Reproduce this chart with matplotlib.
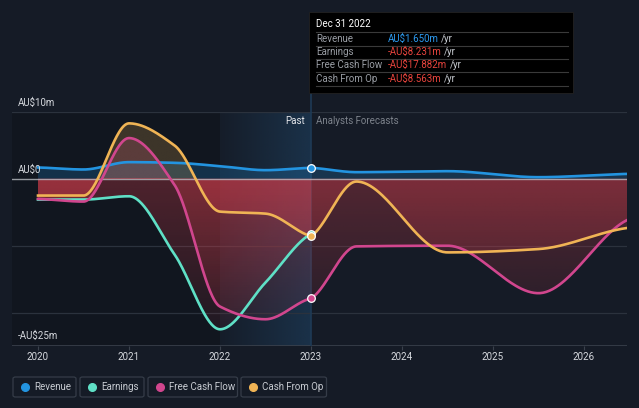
import numpy as np
import matplotlib
matplotlib.use("Agg")
import matplotlib.pyplot as plt
from matplotlib.patches import Polygon, FancyBboxPatch, Rectangle
from matplotlib.colors import to_rgb

plt.rcParams['font.family'] = ['Roboto', 'DejaVu Sans']

# ---------------- data (AU$ millions) ----------------
past_x = [2020.0, 2020.5, 2021.0, 2021.5, 2022.0, 2022.5, 2023.0]
fc_x = [2023.0, 2023.5, 2024.5, 2025.5, 2026.5]

revenue_past = [1.7, 1.4, 2.5, 2.4, 1.9, 1.3, 1.65]
revenue_fc = [1.65, 1.0, 1.15, 0.25, 0.75]
earnings_past = [-3.1, -3.1, -2.6, -11.3, -22.5, -15.5, -8.231]
fcf_past = [-3.0, -3.4, 6.1, -0.9, -19.1, -21.0, -17.882]
fcf_fc = [-17.882, -10.1, -10.0, -17.1, -6.0]
cfo_past = [-2.5, -2.5, 8.3, 5.0, -4.9, -5.2, -8.563]
cfo_fc = [-8.563, -0.4, -11.0, -10.5, -7.3]

year_ticks = [2020, 2021, 2022, 2023, 2024, 2025, 2026]
series_names = ["Revenue", "Earnings", "Free Cash Flow", "Cash From Op"]
series_colors = ["#2394e0", "#5fe0c6", "#d1468e", "#f0b455"]
tooltip_date = "Dec 31 2022"
tooltip_values = ["AU$1.650m", "-AU$8.231m", "-AU$17.882m", "-AU$8.563m"]

BG = "#151b26"
W, H = 639, 408


def pchip(x, y, n=60):
    x = np.asarray(x, float)
    y = np.asarray(y, float)
    h = np.diff(x)
    d = np.diff(y) / h
    m = np.zeros_like(y)
    for k in range(1, len(y) - 1):
        if d[k - 1] * d[k] <= 0:
            m[k] = 0
        else:
            w1 = 2 * h[k] + h[k - 1]
            w2 = h[k] + 2 * h[k - 1]
            m[k] = (w1 + w2) / (w1 / d[k - 1] + w2 / d[k])
    m[0] = d[0] * 0.5
    m[-1] = d[-1] * 0.5
    xs, ys = [], []
    for k in range(len(x) - 1):
        t = np.linspace(0, 1, n, endpoint=(k == len(x) - 2))
        hk = h[k]
        h00 = 2 * t**3 - 3 * t**2 + 1
        h10 = t**3 - 2 * t**2 + t
        h01 = -2 * t**3 + 3 * t**2
        h11 = t**3 - t**2
        xs.append(x[k] + t * hk)
        ys.append(h00 * y[k] + h10 * hk * m[k] + h01 * y[k + 1] + h11 * hk * m[k + 1])
    return np.concatenate(xs), np.concatenate(ys)


fig = plt.figure(figsize=(W / 100, H / 100), dpi=100, facecolor=BG)

x_left = 2020 - 26 / 91
x_right = 2020 + 589 / 91
ymin, ymax = -25, 10

ax = fig.add_axes([12 / W, (H - 346) / H, (627 - 12) / W, (346 - 112) / H])
ax.set_facecolor(BG)
ax.set_xlim(x_left, x_right)
ax.set_ylim(ymin, ymax)
for s in ax.spines.values():
    s.set_visible(False)
ax.set_yticks([])
ax.set_xticks(year_ticks)
ax.set_xticklabels([str(t) for t in year_ticks])
ax.tick_params(axis='x', colors="#3a414c", labelcolor="#d6d9de", labelsize=7,
               length=3, width=0.8, pad=1.5)

# past darker region
ax.axvspan(x_left, 2022, color="black", alpha=0.17, lw=0, zorder=0)
# highlighted past band (horizontal gradient)
band = np.zeros((2, 256, 4))
band[..., :3] = to_rgb("#1f4466")
band[..., 3] = np.linspace(0.05, 0.55, 256)[None, :]
ax.imshow(band, extent=[2022, 2023, ymin, ymax], origin='lower', aspect='auto',
          zorder=0.5, interpolation='bilinear')

# gridlines
for gy in [10, -10, -20]:
    ax.axhline(gy, color="#2b323d", lw=0.9, zorder=1)
ax.axhline(-25, color="#3a414c", lw=1.2, zorder=1)

# vertical "today" line at 2023 (inside axes, below the markers)
ax.axvline(2023, color="#1e3a55", lw=1.2, zorder=1.5)


def grad_fill(x, y, color, a_top, a_bot, ylo, yhi, z):
    poly = np.column_stack([np.r_[x, x[::-1]], np.r_[y, np.zeros_like(y)]])
    patch = Polygon(poly, closed=True, fc='none', ec='none')
    ax.add_patch(patch)
    img = np.zeros((256, 2, 4))
    img[..., :3] = to_rgb(color)
    img[..., 3] = np.linspace(a_bot, a_top, 256)[:, None]
    im = ax.imshow(img, extent=[x[0], x[-1], ylo, yhi], origin='lower',
                   aspect='auto', zorder=z, interpolation='bilinear')
    im.set_clip_path(patch)


rx, ry = pchip(past_x, revenue_past)
rfx, rfy = pchip(fc_x, revenue_fc)
ex, ey = pchip(past_x, earnings_past)
fx, fy = pchip(past_x, fcf_past)
ffx, ffy = pchip(fc_x, fcf_fc)
cx, cy = pchip(past_x, cfo_past)
cfx, cfy = pchip(fc_x, cfo_fc)

rev_x, rev_y = np.r_[rx, rfx[1:]], np.r_[ry, rfy[1:]]
fcf_x, fcf_y = np.r_[fx, ffx[1:]], np.r_[fy, ffy[1:]]
cfo_x, cfo_y = np.r_[cx, cfx[1:]], np.r_[cy, cfy[1:]]

RED = "#e0404e"
# positive fills
grad_fill(rev_x, rev_y, series_colors[0], 0.22, 0.22, 0, ymax, 2)
grad_fill(fcf_x, fcf_y, series_colors[2], 0.2, 0.2, 0, ymax, 2)
grad_fill(cfo_x, cfo_y, series_colors[3], 0.2, 0.2, 0, ymax, 2)
# negative fills (red)
grad_fill(ex, ey, RED, 0.3, 0.05, ymin, 0, 2)
grad_fill(fcf_x, fcf_y, RED, 0.3, 0.05, ymin, 0, 2)
grad_fill(cfo_x, cfo_y, RED, 0.3, 0.05, ymin, 0, 2)

ax.axhline(0, color="#b9bcc2", lw=1.0, alpha=0.8, zorder=3)

lw = 1.9
ax.plot(rev_x, rev_y, color=series_colors[0], lw=lw, zorder=5)
ax.plot(ex, ey, color=series_colors[1], lw=lw, zorder=5)
ax.plot(fcf_x, fcf_y, color=series_colors[2], lw=lw, zorder=5)
ax.plot(cfo_x, cfo_y, color=series_colors[3], lw=lw, zorder=5)

for vals, col in [(revenue_past, series_colors[0]), (earnings_past, series_colors[1]),
                  (fcf_past, series_colors[2]), (cfo_past, series_colors[3])]:
    ax.plot([past_x[-1]], [vals[-1]], 'o', ms=5.5, mfc=col, mec="white", mew=0.9, zorder=7)

ax.set_xlim(x_left, x_right)
ax.set_ylim(ymin, ymax)

# part of the 2023 line above the axes, up to the tooltip
x23 = 12 + (2023 - x_left) / (x_right - x_left) * (627 - 12)
fig.add_artist(plt.Line2D([x23 / W, x23 / W], [(H - 112) / H, (H - 93) / H],
                          color="#1e3a55", lw=1.2, zorder=1))

# axis labels
fig.text(18 / W, 1 - 103 / H, "AU$10m", color="#d6d9de", fontsize=7, va='center')
fig.text(18 / W, 1 - 170 / H, "AU$0", color="#d6d9de", fontsize=7, va='center')
fig.text(18 / W, 1 - 336 / H, "-AU$25m", color="#d6d9de", fontsize=7, va='center')
fig.text(305 / W, 1 - 121 / H, "Past", color="#e4e6ea", fontsize=7, va='center', ha='right')
fig.text(316 / W, 1 - 121 / H, "Analysts Forecasts", color="#7d838c", fontsize=7, va='center')

# tooltip
fig.add_artist(Rectangle((309 / W, 1 - 93 / H), (573 - 309) / W, (93 - 12) / H,
                         transform=fig.transFigure, fc="black", ec="#222", lw=0.6, zorder=10))
fig.text(316 / W, 1 - 24 / H, tooltip_date, color="white", fontsize=7, va='center', zorder=11)
row_lines = [32.3, 45.7, 59, 72.3, 86]
for yl in row_lines:
    fig.add_artist(plt.Line2D([316 / W, 568 / W], [1 - yl / H, 1 - yl / H], color="#3a3a3a",
                              lw=0.8, zorder=11))
renderer = fig.canvas.get_renderer()
for i, (name, val) in enumerate(zip(series_names, tooltip_values)):
    yy = 1 - (38.5 + 13.4 * i) / H
    fig.text(316 / W, yy, name, color="#9a9ea5", fontsize=7, va='center', zorder=11)
    vcol = "#2d9bf0" if not val.startswith("-") else "#e8443d"
    t = fig.text(387.5 / W, yy, val, color=vcol, fontsize=7, va='center', zorder=11)
    bb = t.get_window_extent(renderer=renderer)
    fig.text((bb.x1 + 3) / W, yy, "/yr", color="#c8ccd2", fontsize=7, va='center', zorder=11)

# legend
boxes = [(13, 76), (80, 144), (148, 237.5), (241, 326.5)]
for (x0, x1), name, col in zip(boxes, series_names, series_colors):
    fig.add_artist(FancyBboxPatch((x0 / W, 1 - 397 / H), (x1 - x0) / W, 20 / H,
                                  boxstyle="round,pad=0,rounding_size=0.004",
                                  transform=fig.transFigure, fc=BG, ec="#353c48", lw=0.9))
    fig.add_artist(plt.Line2D([(x0 + 12) / W], [1 - 386.5 / H], marker='o', ms=5.5,
                              color=col, mec=col, transform=fig.transFigure))
    fig.text((x0 + 21) / W, 1 - 386.5 / H, name, color="#c8ccd2", fontsize=7, va='center')

fig.savefig("out.png", dpi=100, facecolor=BG)
